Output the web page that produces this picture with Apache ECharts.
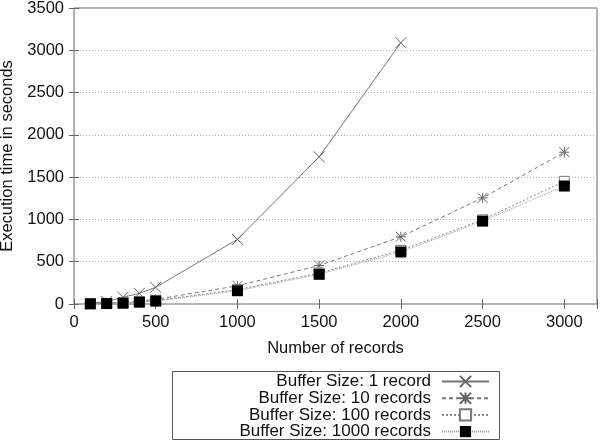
<!DOCTYPE html>
<html>
<head>
<meta charset="utf-8">
<script src="https://cdn.jsdelivr.net/npm/echarts@6/dist/echarts.min.js"></script>
<style>html,body{margin:0;padding:0;background:#fff}#c{width:600px;height:442px}</style>
</head>
<body>
<div id="c"></div>
<script>
const xValues = [100, 200, 300, 400, 500, 1000, 1500, 2000, 2500, 3000];
const buf1 = [8, 30, 80, 126, 197, 764, 1740, 3090];
const buf10 = [4, 10, 20, 35, 55, 215, 455, 795, 1255, 1795];
const buf100 = [3, 6, 12, 25, 40, 170, 365, 635, 995, 1450];
const buf1000 = [2, 5, 10, 22, 35, 157, 351, 615, 980, 1395];
const seriesNames = ['Buffer Size: 1 record', 'Buffer Size: 10 records', 'Buffer Size: 100 records', 'Buffer Size: 1000 records'];
const xTicks = [0, 500, 1000, 1500, 2000, 2500, 3000];
const yTicks = [0, 500, 1000, 1500, 2000, 2500, 3000, 3500];

const FONT = 'Liberation Sans';
const pair = (vals) => vals.map((v, i) => [xValues[i], v]);

const chart = echarts.init(document.getElementById('c'), null, {renderer: 'canvas'});

const axisCommon = {
  axisLine: {show: false},
  axisTick: {show: true, inside: true, length: 5, lineStyle: {color: '#666'}},
  splitLine: {show: false}
};

const legendRows = [373, 389.7, 406.4, 423.1];
const legends = seriesNames.map((n, i) => ({
  data: [n],
  orient: 'vertical',
  align: 'right',
  right: 110,
  top: legendRows[i],
  padding: 0,
  itemWidth: 47,
  itemHeight: 14,
  selectedMode: false,
  textStyle: {fontFamily: FONT, fontSize: 17, color: '#111', padding: [0, 6, 0, 0]}
}));

const option = {
  animation: false,
  backgroundColor: '#fff',
  grid: {left: 74, right: 3, top: 8, bottom: 138, show: true, borderColor: '#666', borderWidth: 1,
    backgroundColor: 'transparent', containLabel: false, outerBoundsMode: 'none'},
  legend: legends,
  graphic: [{
    type: 'rect',
    shape: {x: 172.5, y: 371.5, width: 327, height: 68},
    style: {fill: 'none', stroke: '#555', lineWidth: 1},
    silent: true
  }],
  xAxis: [
    Object.assign({}, axisCommon, {
      type: 'value', min: 0, max: 3200, interval: 500,
      name: 'Number of records', nameLocation: 'middle', nameGap: 36,
      nameTextStyle: {fontFamily: FONT, fontSize: 16.5, color: '#111'},
      axisLabel: {fontFamily: FONT, fontSize: 16.5, color: '#111', margin: 10,
        formatter: v => xTicks.includes(v) ? String(v) : ''},
      position: 'bottom'
    }),
    Object.assign({}, axisCommon, {
      type: 'value', min: 0, max: 3200, interval: 500, position: 'top',
      axisLabel: {show: false}
    })
  ],
  yAxis: [
    Object.assign({}, axisCommon, {
      type: 'value', min: 0, max: 3500, interval: 500,
      name: 'Execution time in seconds', nameLocation: 'middle', nameGap: 53,
      nameTextStyle: {fontFamily: FONT, fontSize: 16.5, color: '#111'},
      axisLabel: {fontFamily: FONT, fontSize: 16.5, color: '#111', margin: 10,
        formatter: v => yTicks.includes(v) ? String(v) : ''},
      splitLine: {show: true, lineStyle: {color: '#b0b0b0', type: [1, 2], width: 1}},
      position: 'left'
    }),
    Object.assign({}, axisCommon, {
      type: 'value', min: 0, max: 3500, interval: 500, position: 'right',
      axisLabel: {show: false}
    })
  ],
  series: [
    {
      name: seriesNames[0], type: 'line', data: pair(buf1),
      symbol: 'path://M0,0L10,10M10,0L0,10', symbolSize: 11,
      itemStyle: {color: 'rgba(255,255,255,0)', borderColor: '#666', borderWidth: 1},
      lineStyle: {color: '#777', width: 1, type: 'solid'},
      emphasis: {disabled: true}, z: 2
    },
    {
      name: seriesNames[1], type: 'line', data: pair(buf10),
      symbol: 'path://M0,0L10,10M10,0L0,10M5,0L5,10M0,5L10,5', symbolSize: 10,
      itemStyle: {color: 'rgba(255,255,255,0)', borderColor: '#666', borderWidth: 1},
      lineStyle: {color: '#777', width: 1, type: [4, 3]},
      emphasis: {disabled: true}, z: 3
    },
    {
      name: seriesNames[2], type: 'line', data: pair(buf100),
      symbol: 'rect', symbolSize: 10,
      itemStyle: {color: '#fff', borderColor: '#777', borderWidth: 1},
      lineStyle: {color: '#888', width: 1, type: [2, 2]},
      emphasis: {disabled: true}, z: 4
    },
    {
      name: seriesNames[3], type: 'line', data: pair(buf1000),
      symbol: 'rect', symbolSize: 11,
      itemStyle: {color: '#000', borderColor: '#000', borderWidth: 0},
      lineStyle: {color: '#999', width: 1, type: [1, 1]},
      emphasis: {disabled: true}, z: 5
    }
  ]
};
chart.setOption(option);
</script>
</body>
</html>
